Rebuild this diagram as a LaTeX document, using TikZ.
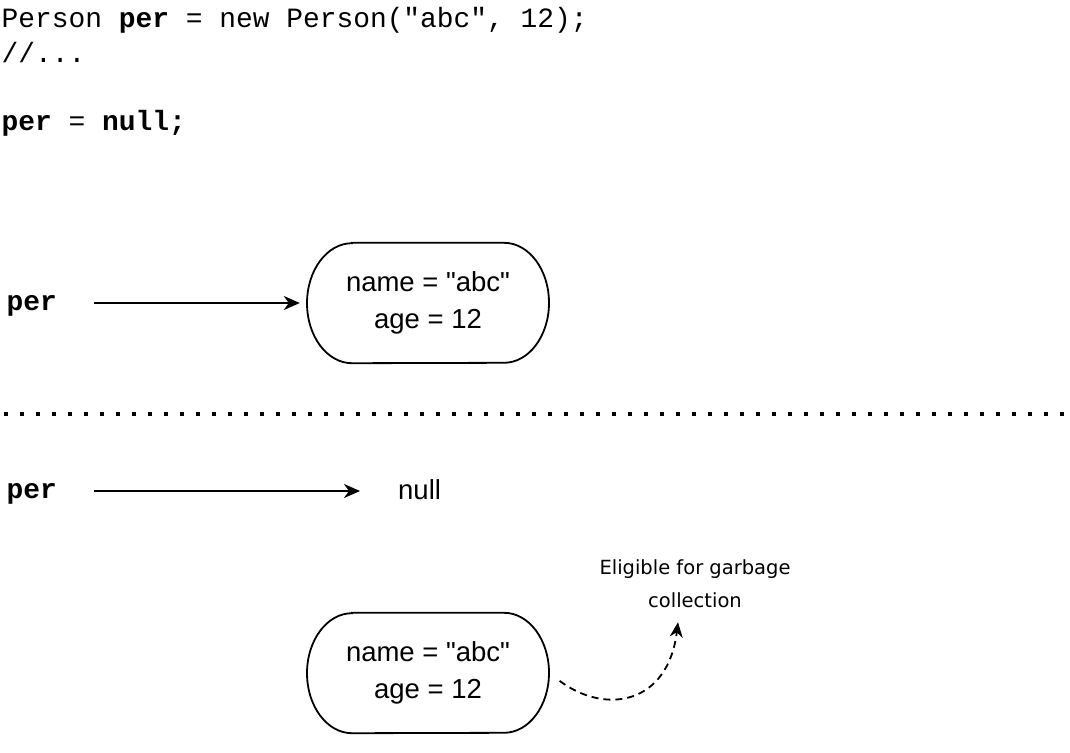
\documentclass[tikz,border=0pt]{standalone}
\usepackage{fontspec}
\setmainfont{Liberation Sans}[Ligatures=TeXOff]
\setmonofont{Liberation Mono}
\newfontfamily\gcfont{DejaVu Sans}
\usetikzlibrary{arrows.meta,calc}
\newcommand\objoutline[1]{%
  \draw[objline] ([xshift=-76pt]#1.north) -- ([xshift=76pt]#1.north)
    arc[start angle=-90,end angle=90,x radius=45,y radius=60]
    -- ([xshift=-76pt]#1.south)
    arc[start angle=90,end angle=270,x radius=45,y radius=60] -- cycle;}
\begin{document}
\begin{tikzpicture}[x=1pt,y=-1pt,
  code/.style={font=\fontsize{27.9}{34}\selectfont\ttfamily, inner sep=0, anchor=base west},
  varname/.style={font=\fontsize{27.9}{34}\selectfont\ttfamily\bfseries, inner sep=0,
    text height=14pt, text depth=0pt, anchor=west},
  nulltext/.style={font=\fontsize{27.5}{37}\selectfont, inner sep=0,
    text height=16pt, text depth=0pt, anchor=west},
  obj/.style={font=\fontsize{27.5}{37}\selectfont, align=center,
    minimum width=242pt, minimum height=120pt, inner sep=0},
  objline/.style={line width=1.8pt},
  gc/.style={font=\gcfont\fontsize{19.5}{33}\selectfont, align=center, inner sep=0},
  arr/.style={line width=2pt, -{Stealth[length=16pt,width=14pt,inset=5pt]}},
  dasharr/.style={line width=1.8pt, dash pattern=on 7pt off 5pt,
    -{Stealth[length=15pt,width=13pt,inset=5pt]}},
  sep/.style={line width=4pt, dash pattern=on 4pt off 12pt, dash phase=12pt}]
\useasboundingbox (0,0) rectangle (1070,752);

% code
\node[code] (c1) at (1.5,28) {Person \textbf{per} = new Person("abc", 12);};
\node[code] (c2) at (1.5,62.5) {//...};
\node[code] (c4) at (1.5,130) {\textbf{per} = \textbf{null;}};

% first state
\node[varname] (per1) at (6.5,303) {per};
\node[obj] (o1) at (428,303) {name = "abc"\\age = 12};
\objoutline{o1}
\draw[arr, shorten <=37pt, shorten >=7pt] (per1.east) -- (o1.west);

% separator
\draw[sep] (0,414) -- (1070,414);

% second state
\node[varname] (per2) at (6.5,491) {per};
\node[nulltext] (null) at (398,491) {null};
\draw[arr, shorten <=37pt, shorten >=38pt] (per2.east) -- (null.west);

\node[obj] (o2) at (428,673) {name = "abc"\\age = 12};
\objoutline{o2}
\node[gc] (gc) at (695,584) {Eligible for garbage\\collection};
\draw[dasharr, shorten <=13pt] (o2.east) .. controls (605,715) and (668,705) .. ([shift={(-17,14)}]gc.south);
\end{tikzpicture}
\end{document}
